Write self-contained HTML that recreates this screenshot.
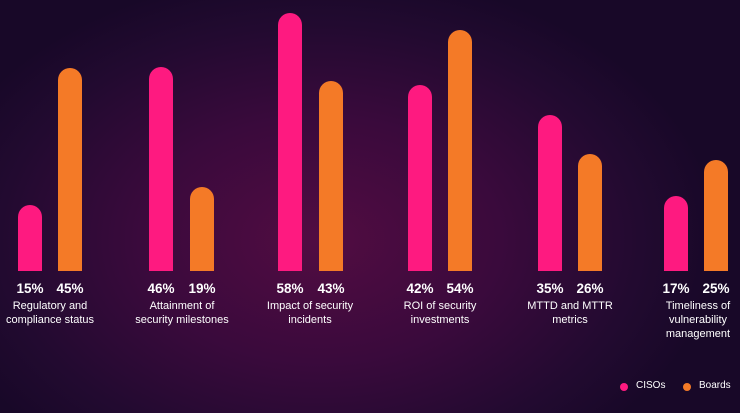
<!DOCTYPE html>
<html><head><style>
html,body{margin:0;padding:0}
body{width:740px;height:413px;overflow:hidden;position:relative;font-family:"Liberation Sans",sans-serif;color:#fff;
background:radial-gradient(ellipse 400px 270px at 320px 240px,#520c42 0%,#3a0a3c 45%,#220a30 80%,#180828 100%);}
.b{position:absolute;width:24px;border-radius:12px 12px 0 0;bottom:142px}
.p{background:#fe1a80}.o{background:#f47a27}
.v{position:absolute;top:281px;width:50px;text-align:center;font-weight:bold;font-size:13.5px}
.c{position:absolute;top:299px;width:130px;text-align:center;font-size:11px;line-height:14px}
.lg{position:absolute;top:380px;font-size:10px}
.dot{position:absolute;top:383px;width:8px;height:8px;border-radius:50%}
</style></head><body>
<div class="b p" style="left:18px;height:66px"></div><div class="b o" style="left:58px;height:203px"></div>
<div class="b p" style="left:149px;height:204px"></div><div class="b o" style="left:190px;height:84px"></div>
<div class="b p" style="left:278px;height:258px"></div><div class="b o" style="left:319px;height:190px"></div>
<div class="b p" style="left:408px;height:186px"></div><div class="b o" style="left:448px;height:241px"></div>
<div class="b p" style="left:538px;height:156px"></div><div class="b o" style="left:578px;height:117px"></div>
<div class="b p" style="left:664px;height:75px"></div><div class="b o" style="left:704px;height:111px"></div>

<div class="v" style="left:5px">15%</div><div class="v" style="left:45px">45%</div>
<div class="v" style="left:136px">46%</div><div class="v" style="left:177px">19%</div>
<div class="v" style="left:265px">58%</div><div class="v" style="left:306px">43%</div>
<div class="v" style="left:395px">42%</div><div class="v" style="left:435px">54%</div>
<div class="v" style="left:525px">35%</div><div class="v" style="left:565px">26%</div>
<div class="v" style="left:651px">17%</div><div class="v" style="left:691px">25%</div>

<div class="c" style="left:-15px">Regulatory and<br>compliance status</div>
<div class="c" style="left:117px">Attainment of<br>security milestones</div>
<div class="c" style="left:245px">Impact of security<br>incidents</div>
<div class="c" style="left:375px">ROI of security<br>investments</div>
<div class="c" style="left:505px">MTTD and MTTR<br>metrics</div>
<div class="c" style="left:633px">Timeliness of<br>vulnerability<br>management</div>

<div class="dot" style="left:620px;background:#fe1a80"></div><div class="lg" style="left:636px">CISOs</div>
<div class="dot" style="left:683px;background:#f47a27"></div><div class="lg" style="left:699px">Boards</div>
</body></html>
